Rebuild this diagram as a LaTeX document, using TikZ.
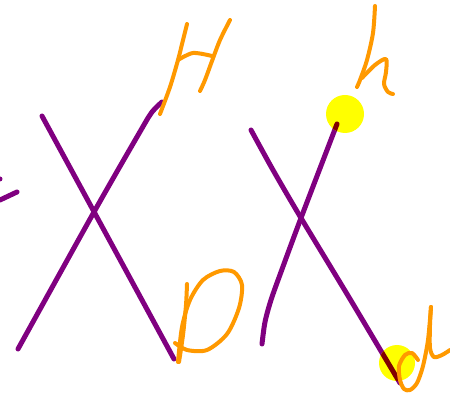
\documentclass[tikz,border=0pt]{standalone}
\definecolor{pen}{RGB}{128,0,128}
\definecolor{ink}{RGB}{255,153,0}
\definecolor{hl}{RGB}{255,255,0}
\definecolor{dark}{RGB}{128,0,0}
\begin{document}
\begin{tikzpicture}[x=1pt,y=-1pt,
  purp/.style={pen, line width=5pt, line cap=round, line join=round},
  ora/.style={ink, line width=4pt, line cap=round, line join=round},
  dk/.style={dark, line width=5pt, line cap=round, line join=round}]
\useasboundingbox (0,0) rectangle (450,395);
\fill[white] (0,0) rectangle (450,395);
% left X
\draw[purp] (42,116) -- (174,359);
\draw[purp] plot[smooth] coordinates {(18,349) (94,212) (141,130) (152,112) (162,102)};
% left fragment
\draw[purp] (0,200) -- (17,192);
\fill[pen] (0,179) circle (2.5);
% right X
\def\strokeA{plot[smooth] coordinates {(251,130) (273,170) (301,218) (350,299) (400,383)}}
\def\strokeB{plot[smooth] coordinates {(262,344) (265,322) (271,300) (281,272) (301,218) (337,124)}}
\draw[purp] \strokeA;
\draw[purp] \strokeB;
% highlights
\fill[hl] (345,114) circle (19);
\fill[hl] (397,363) circle (18);
\begin{scope}
  \clip (345,114) circle (19);
  \draw[dk] \strokeB;
\end{scope}
\begin{scope}
  \clip (397,363) circle (18);
  \draw[dk] \strokeA;
\end{scope}
% H
\draw[ora] plot[smooth] coordinates {(160,114) (170,87) (178,60) (183,40) (187,24)};
\draw[ora] plot[smooth] coordinates {(178,60) (193,53) (212,56)};
\draw[ora] plot[smooth] coordinates {(230,20) (220,40) (212,61) (205,80) (200,91)};
% D
\draw[ora] plot[smooth] coordinates {(187,284) (186,305) (183,335) (179,362)};
\draw[ora] plot[smooth] coordinates {(175,343) (187,350) (207,350) (227,334) (239,308) (242,285) (234,272) (220,271) (203,280) (190,300) (182,327) (178,362)};
% h
\draw[ora] plot[smooth] coordinates {(375,6) (373,33) (367,60) (360,80) (357,87)};
\draw[ora] plot[smooth] coordinates {(362,78) (375,65) (386,59) (386,72) (384,84) (388,92) (393,94)};
% d
\draw[ora] plot[smooth] coordinates {(418,360) (412,353) (405,355) (399,366) (400,380) (404,389) (410,390) (417,383) (423,366) (428,340) (431,307)};
\draw[ora] plot[smooth] coordinates {(431,307) (430,325) (430,348) (434,357) (442,355) (450,350)};
\end{tikzpicture}
\end{document}
